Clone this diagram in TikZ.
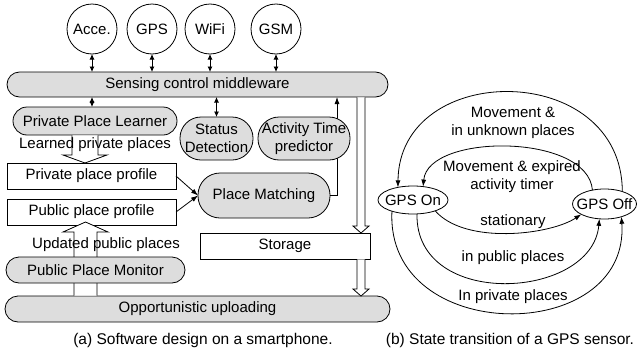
\documentclass[tikz,border=0pt]{standalone}
\usepackage{fontspec}
\setmainfont{Liberation Sans}
\usetikzlibrary{arrows.meta,calc,shapes.geometric}
\definecolor{boxgray}{RGB}{221,221,221}
\begin{document}
\begin{tikzpicture}[x=1pt,y=-1pt,
  every node/.style={inner sep=0pt,outer sep=0pt,font=\fontsize{15}{18}\selectfont},
  ln/.style={line width=0.8pt},
  barbox/.style={ln,draw,fill=boxgray,rounded corners=12.5pt,minimum height=25pt},
  blobbox/.style={ln,draw,fill=boxgray,rounded corners=21pt},
  plainbox/.style={ln,draw,fill=white,minimum height=26pt},
  sensorbox/.style={ln,draw,circle,minimum size=50pt},
  statebox/.style={ln,draw,ellipse,minimum width=70pt,minimum height=28pt},
  hollowarrow/.style={ln,draw,fill=white,line join=miter},
  arrtip/.style={-{Latex[length=7pt,width=5pt]}},
  dblarr/.style={{Latex[length=5.5pt,width=5pt]}-{Latex[length=5.5pt,width=5pt]}},
  captext/.style={font=\fontsize{15.5}{18}\selectfont}
]
\useasboundingbox (0,0) rectangle (637,359);

% sensors and middleware
\node[sensorbox] (acce) at (92,29) {Acce.};
\node[sensorbox] (gps) at (152,29) {GPS};
\node[sensorbox] (wifi) at (210,29) {WiFi};
\node[sensorbox] (gsm) at (276,29) {GSM};
\node[barbox,minimum width=381pt] (mw) at (197.5,84.5) {Sensing control middleware};
\foreach \s in {acce,gps,wifi,gsm} \draw[ln,dblarr] (\s.south) -- (\s.south |- mw.north);

% learner, status, matching, activity
\node[barbox,minimum width=164pt,minimum height=28pt,rounded corners=14pt] (learner) at (95,121) {Private Place Learner};
\draw[ln,dblarr] (acce.south |- mw.south) -- (acce.south |- learner.north);
\node[blobbox,minimum width=73pt,minimum height=43pt,align=center] (status) at (216.5,138.5) {Status\\Detection};
\draw[ln,dblarr] (status.north |- mw.south) -- (status.north);
\node[blobbox,minimum width=132pt,minimum height=45pt,rounded corners=22pt] (match) at (264,195.5) {Place Matching};
\coordinate (mbend) at ($(match.east)+(7,0)$);
\draw[ln,arrtip] (match.east) -- (mbend) -- (mbend |- mw.south);
\node[blobbox,minimum width=92pt,minimum height=43pt,align=center] (activity) at (304,138.5) {Activity Time\\predictor};

% profiles
\node[plainbox,minimum width=169pt] (privp) at (91.5,176) {Private place profile};
\node[plainbox,minimum width=169pt] (pubp) at (91.5,212) {Public place profile};
\draw[ln,arrtip] (privp.east) -- (match.west);
\draw[ln,arrtip] (pubp.east) -- (match.west);

% learned private places block arrow
\draw[hollowarrow] (72,135.4) -- (72,155) -- (63,155) -- (85,163) -- (107,155) -- (98,155) -- (98,135.4);
\node (learnedlbl) at (95,145) {Learned private places};

% uploading, storage, monitor
\node[barbox,minimum width=385pt,minimum height=26pt,rounded corners=13pt] (upl) at (197.5,309) {Opportunistic uploading};
\node[plainbox,minimum width=170pt] (storage) at (285,246) {Storage};
\draw[hollowarrow] (74,295.6) -- (74,232) -- (63,232) -- (85.5,222) -- (108,232) -- (97,232) -- (97,295.6);
\node[barbox,minimum width=179pt,minimum height=26pt,rounded corners=13pt] (monitor) at (95.5,270) {Public Place Monitor};
\node (updlbl) at (106,245) {Updated public places};

% right block arrows
\draw[hollowarrow] (357,97.4) -- (357,226) -- (353,226) -- (361,233) -- (369,226) -- (365,226) -- (365,97.4);
\draw[hollowarrow] (357,259.4) -- (357,289) -- (353,289) -- (361,296) -- (369,289) -- (365,289) -- (365,259.4);

% state transition diagram
\node[statebox] (on) at (413,200) {\makebox[0pt]{GPS On}};
\node[statebox,minimum width=64pt,minimum height=30pt] (off) at (604.5,204) {\makebox[0pt]{GPS Off}};
\draw[ln,arrtip] (off.35) .. controls (622,60) and (399,60) .. (on.140);
\draw[ln,arrtip] (off.131) .. controls (588,133) and (428,133) .. (on.53);
\draw[ln,arrtip] (on.-26) .. controls (465,245) and (550,235) .. (off.204);
\draw[ln,arrtip] (on.-74) .. controls (415,310) and (592,300) .. (off.251);
\draw[ln,arrtip] (on.208) .. controls (385,346) and (630,346) .. (off.323);
\node[align=center] (l1) at (513,123) {Movement \&\\in unknown places};
\node[align=center] (l2) at (512,177) {Movement \& expired\\activity timer};
\node (l3) at (513,222) {stationary};
\node (l4) at (513,258) {in public places};
\node (l5) at (513,297) {In private places};

% captions
\node[captext] (capa) at (203,340) {(a) Software design on a smartphone.};
\node[captext] (capb) at (510,340) {(b) State transition of a GPS sensor.};
\end{tikzpicture}
\end{document}
